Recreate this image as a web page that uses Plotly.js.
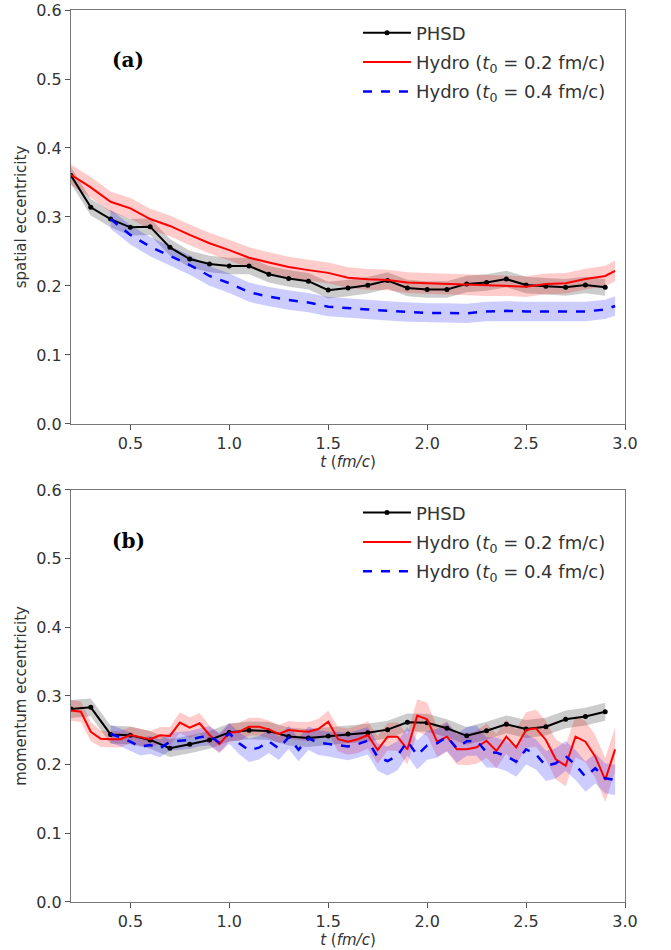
<!DOCTYPE html>
<html><head><meta charset="utf-8">
<script src="https://cdn.plot.ly/plotly-3.0.1.min.js"></script>
<style>html,body{margin:0;padding:0;background:#fff}#chart{width:671px;height:950px}</style>
</head><body><div id="chart"></div>
<script>
// ---------- Panel (a): spatial eccentricity ----------
const phsdT = [0.2,0.3,0.4,0.5,0.6,0.7,0.8,0.9,1.0,1.1,1.2,1.3,1.4,1.5,1.6,1.7,1.8,1.9,2.0,2.1,2.2,2.3,2.4,2.5,2.6,2.7,2.8,2.9];
const phsdA = [0.360,0.314,0.297,0.285,0.286,0.256,0.239,0.232,0.229,0.229,0.217,0.211,0.207,0.194,0.197,0.201,0.208,0.197,0.195,0.195,0.203,0.205,0.210,0.2015,0.1995,0.198,0.2015,0.198];
const phsdAErr = 0.012;

const hydro02T_A = [0.2,0.3,0.4,0.5,0.6,0.7,0.8,0.9,1.0,1.1,1.2,1.3,1.4,1.5,1.6,1.7,1.8,1.9,2.0,2.1,2.2,2.3,2.4,2.5,2.6,2.7,2.8,2.9,2.95];
const hydro02A = [0.361,0.343,0.322,0.3125,0.297,0.287,0.274,0.262,0.252,0.241,0.234,0.2275,0.223,0.219,0.212,0.2097,0.2087,0.205,0.204,0.203,0.2015,0.2005,0.2005,0.199,0.203,0.204,0.210,0.2145,0.222];
const hydro02AErr = 0.015;

const hydro04T_A = [0.4,0.5,0.6,0.7,0.8,0.9,1.0,1.1,1.2,1.3,1.4,1.5,1.6,1.7,1.8,1.9,2.0,2.1,2.2,2.3,2.4,2.5,2.6,2.7,2.8,2.9,2.95];
const hydro04A = [0.297,0.274,0.257,0.2435,0.2304,0.2145,0.204,0.191,0.1845,0.1797,0.176,0.170,0.1676,0.166,0.164,0.162,0.161,0.161,0.1604,0.163,0.164,0.163,0.163,0.163,0.163,0.166,0.171];
const hydro04AErr = 0.014;

// ---------- Panel (b): momentum eccentricity ----------
const phsdB = [0.281,0.2835,0.244,0.2427,0.236,0.224,0.2296,0.236,0.247,0.250,0.249,0.241,0.2388,0.2417,0.2446,0.2466,0.251,0.2616,0.261,0.253,0.242,0.2495,0.2587,0.252,0.2553,0.266,0.270,0.277];
const phsdBErr = 0.013;

const hydro02T_B = [0.2,0.25,0.3,0.35,0.4,0.45,0.5,0.55,0.6,0.65,0.7,0.75,0.8,0.85,0.9,0.95,1.0,1.05,1.1,1.15,1.2,1.25,1.3,1.35,1.4,1.45,1.5,1.55,1.6,1.65,1.7,1.75,1.8,1.85,1.9,1.95,2.0,2.05,2.1,2.15,2.2,2.25,2.3,2.35,2.4,2.45,2.5,2.55,2.6,2.65,2.7,2.75,2.8,2.85,2.9,2.95];
const hydro02B = [0.279,0.277,0.248,0.2378,0.237,0.237,0.2432,0.2398,0.237,0.2427,0.2418,0.2612,0.2539,0.2602,0.2432,0.2301,0.2466,0.248,0.2553,0.2553,0.2514,0.2447,0.2505,0.249,0.248,0.2519,0.2626,0.237,0.2335,0.237,0.2432,0.2214,0.2408,0.2408,0.2223,0.2714,0.266,0.2335,0.2408,0.2223,0.2223,0.2252,0.2349,0.2199,0.2408,0.2252,0.2505,0.253,0.236,0.2078,0.1985,0.2408,0.2335,0.2117,0.1777,0.2223];
const hydro02BErr = [0.015,0.015,0.014,0.012,0.012,0.012,0.012,0.012,0.012,0.012,0.013,0.015,0.015,0.015,0.014,0.014,0.013,0.013,0.013,0.013,0.013,0.013,0.013,0.013,0.014,0.015,0.016,0.018,0.019,0.02,0.02,0.02,0.02,0.021,0.022,0.024,0.024,0.022,0.022,0.022,0.023,0.024,0.025,0.025,0.025,0.026,0.026,0.027,0.028,0.029,0.03,0.03,0.03,0.031,0.032,0.032];

const hydro04T_B = [0.4,0.45,0.5,0.55,0.6,0.65,0.7,0.75,0.8,0.85,0.9,0.95,1.0,1.05,1.1,1.15,1.2,1.25,1.3,1.35,1.4,1.45,1.5,1.55,1.6,1.65,1.7,1.75,1.8,1.85,1.9,1.95,2.0,2.05,2.1,2.15,2.2,2.25,2.3,2.35,2.4,2.45,2.5,2.55,2.6,2.65,2.7,2.75,2.8,2.85,2.9,2.95];
const hydro04B = [0.2446,0.2398,0.2335,0.2262,0.2286,0.2238,0.2335,0.2345,0.236,0.2398,0.2418,0.232,0.2456,0.231,0.2209,0.2247,0.234,0.2238,0.2398,0.2218,0.2384,0.232,0.230,0.2286,0.2265,0.230,0.2349,0.211,0.2053,0.213,0.234,0.2141,0.228,0.231,0.2408,0.2238,0.234,0.2349,0.218,0.2175,0.2126,0.2044,0.2223,0.215,0.1981,0.202,0.2126,0.1995,0.1826,0.1947,0.1801,0.1777];
const hydro04BErr = [0.013,0.013,0.013,0.013,0.013,0.013,0.013,0.013,0.013,0.013,0.014,0.014,0.015,0.016,0.017,0.017,0.017,0.017,0.017,0.017,0.017,0.018,0.018,0.019,0.02,0.02,0.02,0.02,0.021,0.021,0.021,0.021,0.021,0.021,0.021,0.021,0.021,0.022,0.022,0.022,0.022,0.022,0.022,0.022,0.022,0.022,0.022,0.022,0.022,0.022,0.022,0.022];

const xTicks = [0.5,1.0,1.5,2.0,2.5,3.0];
const yTicks = [0.0,0.1,0.2,0.3,0.4,0.5,0.6];

function errArr(y, e){ return Array.isArray(e) ? e : y.map(()=>e); }
function band(x, y, e, color, xa, ya){
  const ee = errArr(y, e);
  const up = y.map((v,i)=>v+ee[i]);
  const dn = y.map((v,i)=>v-ee[i]);
  return {x: x.concat(x.slice().reverse()), y: up.concat(dn.reverse()),
    type:'scatter', mode:'lines', fill:'toself', fillcolor:color,
    line:{width:0, color:'rgba(0,0,0,0)'}, hoverinfo:'skip', showlegend:false, xaxis:xa, yaxis:ya};
}
const lbl02 = 'Hydro (<i>t</i><sub>0</sub> = 0.2 fm/c)';
const lbl04 = 'Hydro (<i>t</i><sub>0</sub> = 0.4 fm/c)';
const GREY='rgba(0,0,0,0.2)', RED='rgba(255,0,0,0.2)', BLUE='rgba(0,0,255,0.2)';

const traces = [
  band(phsdT, phsdA, phsdAErr, GREY, 'x','y'),
  band(hydro02T_A, hydro02A, hydro02AErr, RED, 'x','y'),
  band(hydro04T_A, hydro04A, hydro04AErr, BLUE, 'x','y'),
  {x:phsdT, y:phsdA, type:'scatter', mode:'lines+markers', name:'PHSD', line:{color:'black', width:2}, marker:{color:'black', size:5}, xaxis:'x', yaxis:'y', legend:'legend', legendgroup:'a1'},
  {x:hydro02T_A, y:hydro02A, type:'scatter', mode:'lines', name:lbl02, line:{color:'red', width:2}, xaxis:'x', yaxis:'y', legend:'legend', legendgroup:'a2'},
  {x:hydro04T_A, y:hydro04A, type:'scatter', mode:'lines', name:lbl04, line:{color:'blue', width:2.5, dash:'dash'}, xaxis:'x', yaxis:'y', legend:'legend', legendgroup:'a3'},

  band(phsdT, phsdB, phsdBErr, GREY, 'x2','y2'),
  band(hydro02T_B, hydro02B, hydro02BErr, RED, 'x2','y2'),
  band(hydro04T_B, hydro04B, hydro04BErr, BLUE, 'x2','y2'),
  {x:phsdT, y:phsdB, type:'scatter', mode:'lines+markers', name:'PHSD', line:{color:'black', width:2}, marker:{color:'black', size:5}, xaxis:'x2', yaxis:'y2', legend:'legend2', legendgroup:'b1'},
  {x:hydro02T_B, y:hydro02B, type:'scatter', mode:'lines', name:lbl02, line:{color:'red', width:2}, xaxis:'x2', yaxis:'y2', legend:'legend2', legendgroup:'b2'},
  {x:hydro04T_B, y:hydro04B, type:'scatter', mode:'lines', name:lbl04, line:{color:'blue', width:2.5, dash:'dash'}, xaxis:'x2', yaxis:'y2', legend:'legend2', legendgroup:'b3'}
];

const TXT = '#333';
function xax(anchor){ return {anchor:anchor, range:[0.2,3.0], tickvals:xTicks, tickformat:'.1f', ticks:'outside', ticklen:5, tickcolor:'#555',
  showline:true, mirror:true, linecolor:'#777', linewidth:1.2, showgrid:false, zeroline:false,
  tickfont:{family:'DejaVu Sans', size:16, color:TXT},
  title:{text:'<i>t</i> (<i>fm/c</i>)', font:{family:'DejaVu Sans', size:15, color:TXT}, standoff:1}}; }
function yax(anchor, dom, ttl){ return {anchor:anchor, domain:dom, range:[0,0.6], tickvals:yTicks, tickformat:'.1f', ticks:'outside', ticklen:5, tickcolor:'#555',
  showline:true, mirror:true, linecolor:'#777', linewidth:1.2, showgrid:false, zeroline:false,
  tickfont:{family:'DejaVu Sans', size:16, color:TXT},
  title:{text:ttl, font:{family:'DejaVu Sans', size:15, color:TXT}, standoff:5}}; }

const legStyle = (y)=>({x:0.518, y:y, xanchor:'left', yanchor:'top', bgcolor:'rgba(0,0,0,0)', borderwidth:0,
  font:{family:'DejaVu Sans', size:18, color:TXT}, itemwidth:48, traceorder:'grouped', tracegroupgap:3});

const layout = {
  width:671, height:950, margin:{l:71, r:46, t:10, b:48},
  paper_bgcolor:'#fff', plot_bgcolor:'#fff', font:{family:'DejaVu Sans', size:15, color:TXT},
  xaxis: xax('y'), yaxis: yax('x', [0.5359,1], 'spatial eccentricity'),
  xaxis2: xax('y2'), yaxis2: yax('x2', [0,0.4619], 'momentum eccentricity'),
  legend: legStyle(0.995), legend2: legStyle(0.457),
  annotations:[
    {text:'<b>(a)</b>', xref:'paper', yref:'paper', x:0.103, y:0.944, xanchor:'center', yanchor:'middle', showarrow:false, font:{family:'DejaVu Serif', size:20, color:'#000'}},
    {text:'<b>(b)</b>', xref:'paper', yref:'paper', x:0.103, y:0.405, xanchor:'center', yanchor:'middle', showarrow:false, font:{family:'DejaVu Serif', size:20, color:'#000'}}
  ],
  showlegend:true
};
Plotly.newPlot('chart', traces, layout, {displayModeBar:false, staticPlot:true});
</script></body></html>
